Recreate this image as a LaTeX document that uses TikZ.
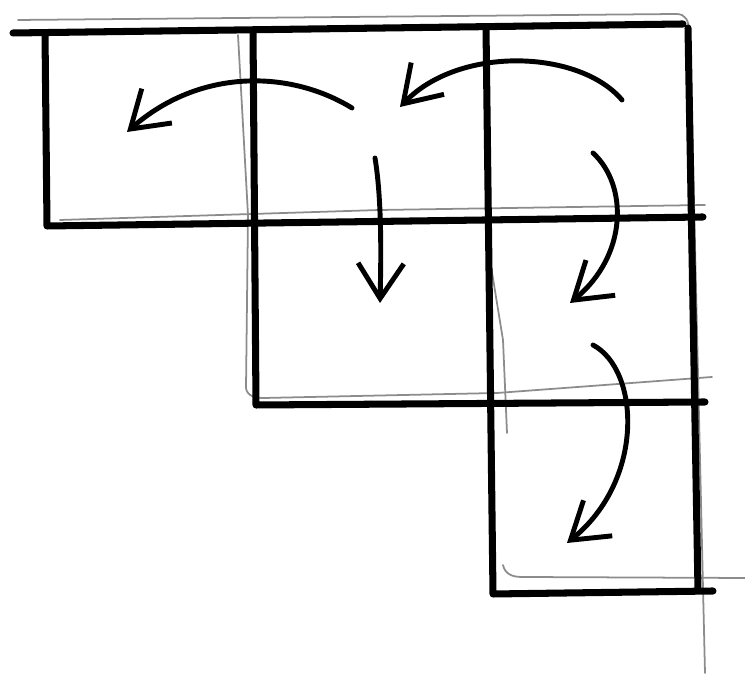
\documentclass[tikz,border=0pt]{standalone}
\usetikzlibrary{arrows.meta}

\begin{document}
\begin{tikzpicture}[
  x=0.01cm, y=-0.01cm,
  frame/.style={line width=2pt, line cap=round, line join=round},
  guide/.style={line width=0.5pt, black!45, line cap=round},
  move/.style={line width=1.4pt, line cap=round, -{Straight Barb[length=10pt,width=13pt,line width=1.4pt]}},
]
\useasboundingbox (0,0) rectangle (745,680);

% faint construction lines
\draw[guide] (18,20) -- (676,14) .. controls (686,14) and (688,20) .. (690,32) -- (705,673);
\draw[guide] (238,35) -- (248,215) -- (246,388) .. controls (247,396) and (255,398) .. (264,398) -- (497,393) -- (712,377);
\draw[guide] (60,220) -- (380,210) -- (705,205);
\draw[guide] (490,260) -- (503,340) -- (507,433);
\draw[guide] (503,565) .. controls (505,574) and (512,577) .. (522,577) -- (745,578);

% the staircase of boxes
\draw[frame] (13,33) -- (683,24);
\draw[frame] (45,33) -- (47,226) -- (703,217);
\draw[frame] (253,31) -- (256,405) -- (705,402);
\draw[frame] (486,27) -- (493,594) -- (713,591);
\draw[frame] (688,28) -- (698,590);

% end points of the moves
\coordinate (a1) at (352,108);
\coordinate (b1) at (127,132);
\coordinate (a2) at (622,100);
\coordinate (b2) at (400,107);
\coordinate (a3) at (375,158);
\coordinate (b3) at (380,303);
\coordinate (a4) at (593,153);
\coordinate (b4) at (570,303);
\coordinate (a5) at (593,345);
\coordinate (b5) at (567,543);

\draw[move] (a1) .. controls (290,70) and (200,68) .. (b1);
\draw[move] (a2) .. controls (580,50) and (460,45) .. (b2);
\draw[move] (a3) .. controls (382,200) and (381,260) .. (b3);
\draw[move] (a4) .. controls (628,185) and (628,255) .. (b4);
\draw[move] (a5) .. controls (640,370) and (645,480) .. (b5);
\end{tikzpicture}
\end{document}
